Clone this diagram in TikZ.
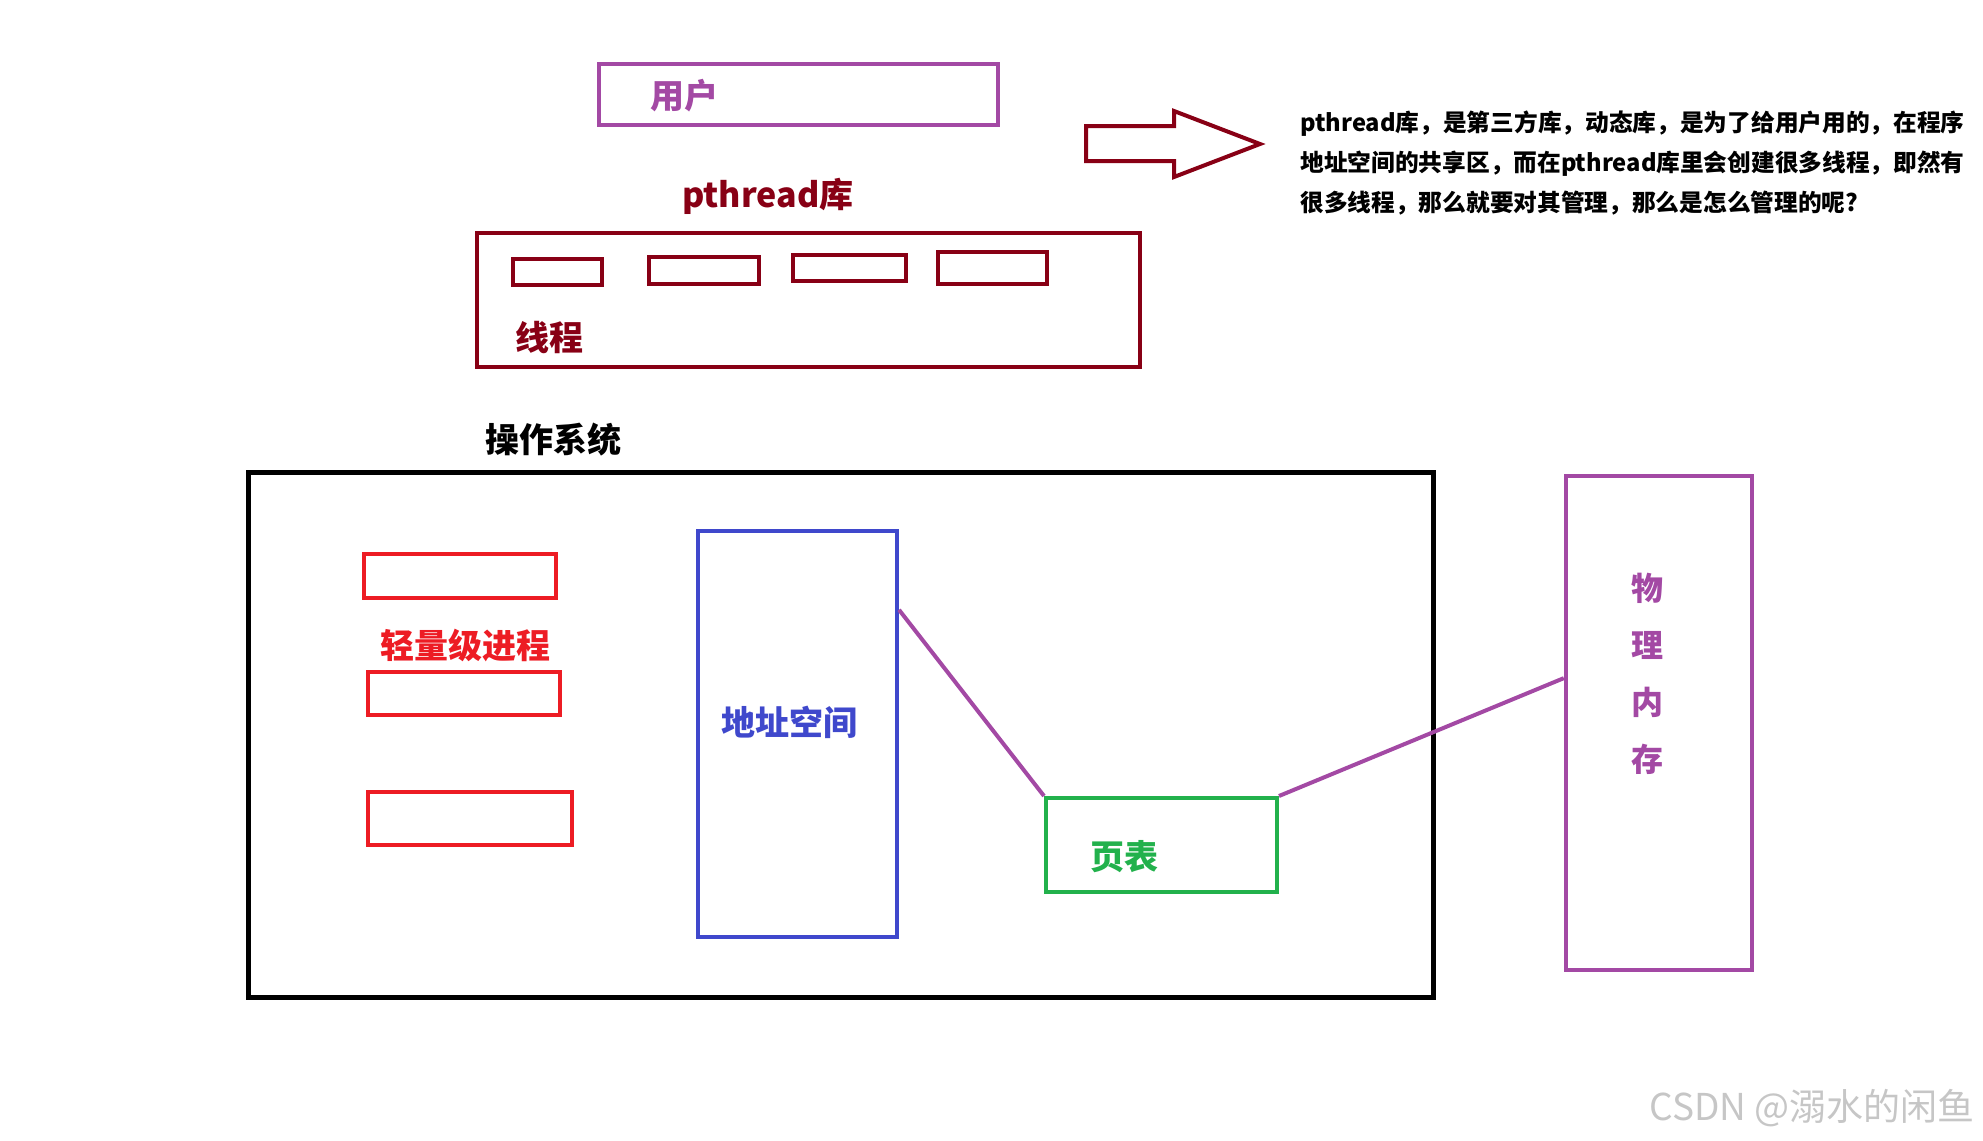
\documentclass[tikz,border=0pt]{standalone}
\usepackage{fontspec}
\setmainfont{Noto Sans CJK SC}
\usetikzlibrary{calc}
\definecolor{figP}{RGB}{163,73,164}
\definecolor{figD}{RGB}{136,0,21}
\definecolor{figR}{RGB}{237,28,36}
\definecolor{figB}{RGB}{63,72,204}
\definecolor{figG}{RGB}{34,177,76}

\begin{document}
\begin{tikzpicture}[x=0.5pt,y=-0.5pt,box/.style={draw,line width=2pt,inner sep=0pt},lbl/.style={font=\bfseries\fontsize{17}{20}\selectfont,inner sep=0pt}]
\useasboundingbox (0,0) rectangle (1983,1141);
% user and library
\node[box,figP,minimum width=199.5pt,minimum height=30.5pt] (user) at (798.5,94.5) {};
\node[lbl,figP] (userlbl) at (684,96) {用户};
\node[lbl,figD] (liblbl) at (768,196) {pthread库};
\node[box,figD,minimum width=331.5pt,minimum height=67pt] (lib) at (808.5,300) {};
\node[box,figD,minimum width=44.5pt,minimum height=13pt] (t1) at (557.5,272) {};
\node[box,figD,minimum width=55pt,minimum height=13.5pt] (t2) at (704,270.5) {};
\node[box,figD,minimum width=56.5pt,minimum height=13pt] (t3) at (849.5,268) {};
\node[box,figD,minimum width=54.5pt,minimum height=16pt] (t4) at (992.5,268) {};
\node[lbl,figD] (threadlbl) at (549,338) {线程};
\draw[figD,line width=2pt,line join=miter] (1086,126)--(1174,126)--(1174,111)--(1260,144)--(1174,177)--(1174,161)--(1086,161)--cycle;
\node[anchor=west,align=left,inner sep=0pt,font=\bfseries\fontsize{11.85}{19.8}\selectfont] (note) at (1300,163) {pthread库，是第三方库，动态库，是为了给用户用的，在程序\\地址空间的共享区，而在pthread库里会创建很多线程，即然有\\很多线程，那么就要对其管理，那么是怎么管理的呢?};
% operating system
\node[lbl] (oslbl) at (553,440) {操作系统};
\node[box,line width=2.5pt,minimum width=592.5pt,minimum height=262.5pt] (os) at (840.5,734.5) {};
\node[box,figR,minimum width=96pt,minimum height=22pt] (p1) at (460,576) {};
\node[lbl,figR] (proclbl) at (465,645) {轻量级进程};
\node[box,figR,minimum width=96pt,minimum height=21.5pt] (p2) at (464,693.5) {};
\node[box,figR,minimum width=102pt,minimum height=26.5pt] (p3) at (470,818.5) {};
\node[box,figB,minimum width=99.5pt,minimum height=203pt] (addr) at (797.5,734) {};
\node[lbl,figB] (addrlbl) at (789,722) {地址空间};
\node[box,figG,minimum width=115.5pt,minimum height=47pt] (pt) at (1161.5,845) {};
\node[lbl,figG] (ptlbl) at (1124,857) {页表};
\node[box,figP,line width=2.2pt,minimum width=93pt,minimum height=247pt] (mem) at (1659,723) {};
\node[lbl,figP,align=center,font=\bfseries\fontsize{16}{28.6}\selectfont] (memlbl) at (1647,674) {物\\理\\内\\存};
\draw[figP,line width=2pt] ($(addr.north east)!0.197!(addr.south east)$) -- (pt.north west);
\draw[figP,line width=2pt] (pt.north east) -- ($(mem.north west)!0.41!(mem.south west)$);
\node[anchor=east,gray!45,inner sep=0pt,font=\fontsize{18.5}{20}\selectfont] (mark) at (1975,1108) {CSDN @溺水的闲鱼};
\end{tikzpicture}
\end{document}
